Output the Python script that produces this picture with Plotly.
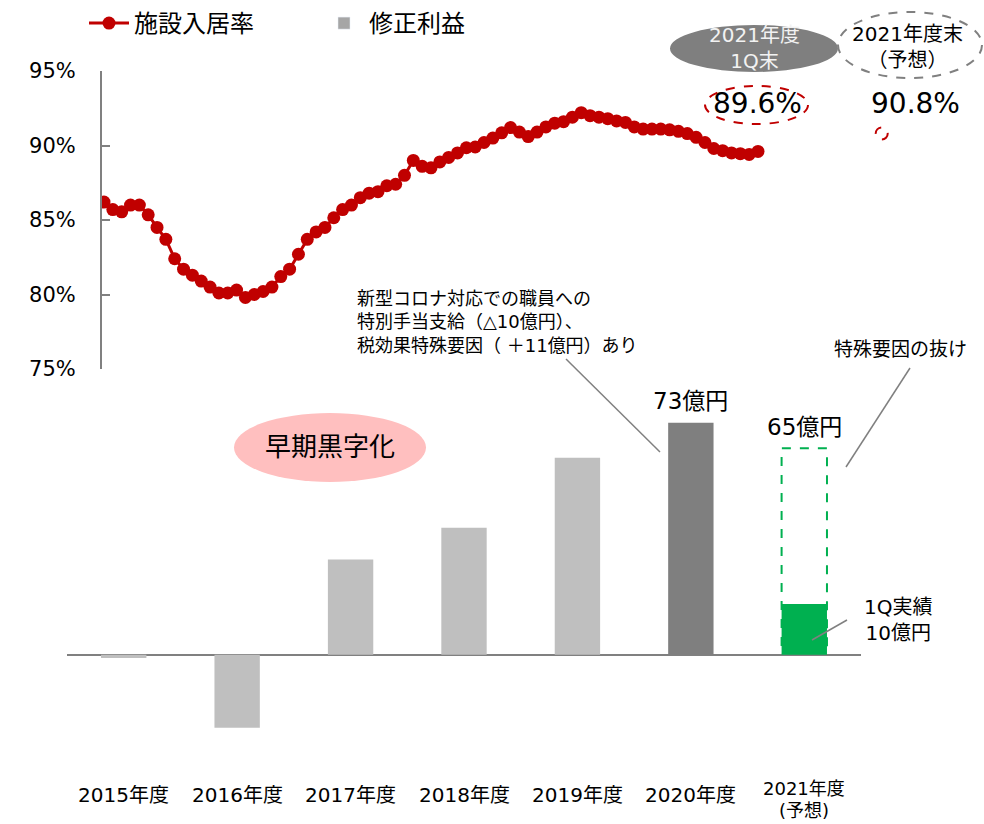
import plotly.graph_objects as go

# ---------------- data ----------------
occupancy = [86.2, 85.7, 85.55, 86.0, 86.0, 85.35, 84.5, 83.7, 82.4, 81.7,
             81.3, 80.9, 80.5, 80.1, 80.1, 80.3, 79.8, 80.0, 80.2, 80.5,
             81.2, 81.7, 82.7, 83.7, 84.2, 84.5, 85.15, 85.7, 86.0, 86.5,
             86.8, 86.9, 87.3, 87.4, 88.0, 89.0, 88.6, 88.5, 88.9, 89.2,
             89.5, 89.85, 89.9, 90.2, 90.5, 90.85, 91.2, 90.9, 90.6, 90.9,
             91.25, 91.5, 91.6, 91.9, 92.2, 92.0, 91.9, 91.8, 91.65, 91.55,
             91.25, 91.1, 91.1, 91.1, 91.05, 90.95, 90.8, 90.55, 90.2, 89.8,
             89.65, 89.5, 89.45, 89.4, 89.6]
forecast_occupancy = 90.8
forecast_month_index = 88
latest_occupancy_label = "89.6%"
forecast_occupancy_label = "90.8%"

years = ["2015年度", "2016年度", "2017年度", "2018年度", "2019年度", "2020年度", "2021年度"]
year_labels = ["2015年度", "2016年度", "2017年度", "2018年度", "2019年度", "2020年度", "2021年度<br>(予想)"]
profit = [-1, -23, 30, 40, 62, 73, 16]
profit_forecast_2021 = 65
y_ticks = [75, 80, 85, 90, 95]

# ---------------- style ----------------
W, H = 984, 824
FONT = "DejaVu Sans, Noto Sans CJK JP, sans-serif"
RED = "#c00000"
GRAY_AXIS = "#808080"
bar_colors = ["#bfbfbf"] * 5 + ["#7f7f7f", "#00b050"]


def px(x):
    return x / W


def py(y):
    return 1 - y / H


fig = go.Figure()

# bars (bottom panel)
fig.add_trace(go.Bar(
    x=years, y=profit, name="修正利益", marker=dict(color=bar_colors, line=dict(width=0)),
    width=0.4, xaxis="x", yaxis="y", showlegend=False,
))
# legend-only entry for bars
fig.add_trace(go.Bar(
    x=[years[0]], y=[None], name="修正利益", marker=dict(color="#a6a6a6"),
    xaxis="x", yaxis="y", showlegend=True,
))

# occupancy line (top panel)
fig.add_trace(go.Scatter(
    x=list(range(len(occupancy))), y=occupancy, name="施設入居率", mode="lines+markers",
    line=dict(color=RED, width=3), marker=dict(color=RED, size=13),
    xaxis="x2", yaxis="y2",
))

# ---------------- axes ----------------
bar_dom_x = [px(67), px(861)]
bar_dom_y = [py(766), py(400.6)]
line_dom_x = [px(101), px(900)]
line_dom_y = [py(369), py(71)]
step = 654 / (len(occupancy) - 1)
r0 = -(104 - 101) / step
r1 = r0 + (900 - 101) / step

fig.update_layout(
    width=W, height=H, margin=dict(l=0, r=0, t=0, b=0, autoexpand=False),
    paper_bgcolor="white", plot_bgcolor="white",
    font=dict(family=FONT, size=20, color="#000000"),
    barmode="overlay",
    xaxis=dict(domain=bar_dom_x, type="category", showticklabels=False, showgrid=False,
               showline=False, ticks="", zeroline=False, fixedrange=True),
    yaxis=dict(domain=bar_dom_y, range=[-35, 80], showticklabels=False, showgrid=False,
               showline=False, ticks="", zeroline=True, zerolinecolor=GRAY_AXIS,
               zerolinewidth=2),
    xaxis2=dict(domain=line_dom_x, range=[r0, r1], visible=False, anchor="y2"),
    yaxis2=dict(domain=line_dom_y, range=[75, 95], anchor="free", position=px(101),
                tickvals=y_ticks, ticktext=[f"{v}%" for v in y_ticks],
                showgrid=False, zeroline=False, showline=True, linecolor=GRAY_AXIS,
                linewidth=2, ticks="inside", ticklen=8, tickwidth=2, tickcolor=GRAY_AXIS,
                tickfont=dict(size=21, color="#000000"), ticklabelstandoff=20),
    legend=dict(orientation="h", x=px(84), y=py(1), xanchor="left", yanchor="top",
                font=dict(size=24), traceorder="reversed", entrywidth=180, itemwidth=40,
                bgcolor="rgba(0,0,0,0)"),
)

annotations = []
shapes = []


def note(x, y, text, size, color="#000000", xanchor="center", yanchor="middle",
         xref="paper", yref="paper", align="center", yshift=0, height=None):
    a = dict(x=x, y=y, xref=xref, yref=yref, text=text, showarrow=False,
             xanchor=xanchor, yanchor=yanchor, align=align, yshift=yshift,
             font=dict(size=size, color=color))
    if height is not None:
        a["height"] = height
    annotations.append(a)


# category labels (one annotation per text line)
for cat, lab in zip(years, year_labels):
    lines = lab.split("<br>")
    if len(lines) == 1:
        note(cat, py(795), lines[0], 20, xref="x", height=20)
    else:
        for k, line in enumerate(lines):
            note(cat, py(788 + 22 * k), line, 18, xref="x", height=18)

# 2021 forecast dashed outline
i21 = years.index("2021年度")
shapes.append(dict(type="rect", xref="x", yref="y", x0=i21 - 0.2, x1=i21 + 0.2,
                   y0=0, y1=profit_forecast_2021,
                   line=dict(color="#00b050", width=2, dash="dash"),
                   fillcolor="rgba(0,0,0,0)", layer="below"))

# bar value labels
note(years[5], profit[5], f"{profit[5]}億円", 23, xref="x", yref="y", yanchor="bottom",
     yshift=7)
note(years[6], profit_forecast_2021, f"{profit_forecast_2021}億円", 23, xref="x", yref="y",
     yanchor="bottom", yshift=6)

# callouts
note(px(355), py(322), "新型コロナ対応での職員への<br>特別手当支給（△10億円）、<br>税効果特殊要因（ ＋11億円）あり",
     18, xanchor="left", align="left")
shapes.append(dict(type="line", xref="paper", yref="paper", x0=px(566), y0=py(359),
                   x1=px(660), y1=py(452), line=dict(color=GRAY_AXIS, width=1.5)))

note(px(900), py(349), "特殊要因の抜け", 19)
shapes.append(dict(type="line", xref="paper", yref="paper", x0=px(910), y0=py(368),
                   x1=px(846), y1=py(467), line=dict(color=GRAY_AXIS, width=1.5)))

note(px(898), py(620), "1Q実績<br>10億円", 20)
shapes.append(dict(type="line", xref="paper", yref="paper", x0=px(847), y0=py(620),
                   x1=px(812), y1=py(640), line=dict(color=GRAY_AXIS, width=1.5)))

# 早期黒字化 ellipse
shapes.append(dict(type="circle", xref="paper", yref="paper", x0=px(234), x1=px(426),
                   y0=py(482), y1=py(413), fillcolor="#ffbfbf", line=dict(width=0),
                   layer="below"))
note(px(330), py(447), "早期黒字化", 26)

# 2021年度 1Q末 gray ellipse
shapes.append(dict(type="circle", xref="paper", yref="paper", x0=px(670), x1=px(838),
                   y0=py(72), y1=py(25), fillcolor="#7f7f7f", line=dict(width=0)))
note(px(754), py(48), "2021年度<br>1Q末", 20, color="#f2f2f2")
# 89.6%
shapes.append(dict(type="circle", xref="paper", yref="paper", x0=px(705), x1=px(808),
                   y0=py(124), y1=py(86), line=dict(color=RED, width=2, dash="dash")))
note(px(757), py(104), latest_occupancy_label, 28)

# 2021年度末（予想）
shapes.append(dict(type="circle", xref="paper", yref="paper", x0=px(838), x1=px(982),
                   y0=py(78), y1=py(12), line=dict(color=GRAY_AXIS, width=2, dash="dash")))
note(px(907), py(47), "2021年度末<br>（予想）", 20)
note(px(915), py(103), forecast_occupancy_label, 28)

# forecast point (dashed circle)
shapes.append(dict(type="circle", xref="x2", yref="y2", xsizemode="pixel",
                   ysizemode="pixel", xanchor=forecast_month_index, yanchor=forecast_occupancy,
                   x0=-6, x1=6, y0=-6, y1=6, line=dict(color=RED, width=2, dash="dash")))

fig.update_layout(annotations=annotations, shapes=shapes)
fig.write_html("out.html", config={"displayModeBar": False},
               post_script="document.body.style.margin='0';document.body.style.padding='0';")
